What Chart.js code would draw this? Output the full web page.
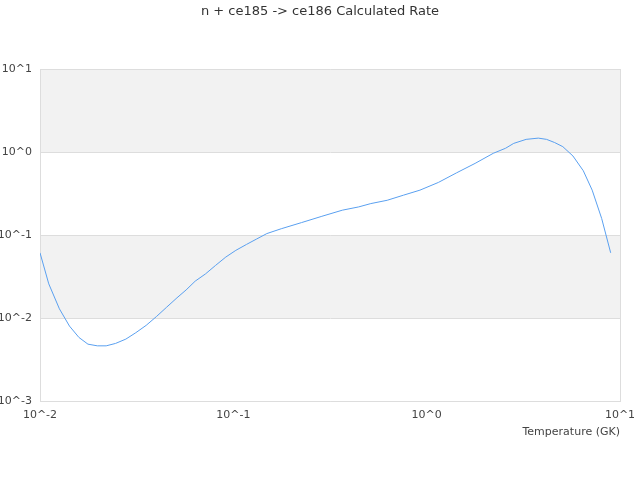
<!DOCTYPE html>
<html>
<head>
<meta charset="utf-8">
<script src="https://cdn.jsdelivr.net/npm/chart.js@4"></script>
<style>
  html, body { margin: 0; padding: 0; background: #fff; }
  #wrap { width: 640px; height: 480px; }
</style>
</head>
<body>
<div id="wrap"><canvas id="myChart" width="640" height="480"></canvas></div>
<script>
// temperature in GK
var temps = [0.01, 0.0111, 0.0126, 0.0142, 0.0159, 0.0177, 0.0198, 0.022, 0.0246, 0.0278,
  0.0313, 0.0354, 0.04, 0.0452, 0.0511, 0.057, 0.0635, 0.0718, 0.0809, 0.0914,
  0.103, 0.117, 0.132, 0.149, 0.177, 0.225, 0.287, 0.366, 0.445, 0.514,
  0.625, 0.759, 0.923, 1.15, 1.43, 1.78, 2.21, 2.56, 2.82, 3.27,
  3.78, 4.17, 4.59, 5.06, 5.71, 6.46, 7.18, 8.04, 8.95];
// calculated rate
var rates = [0.061, 0.0258, 0.0129, 0.008, 0.00583, 0.00484, 0.00462, 0.00462, 0.00494, 0.00557,
  0.00665, 0.00815, 0.0104, 0.0135, 0.0175, 0.0218, 0.0278, 0.034, 0.043, 0.0542,
  0.0653, 0.077, 0.0895, 0.104, 0.119, 0.141, 0.168, 0.199, 0.218, 0.239,
  0.262, 0.302, 0.347, 0.43, 0.562, 0.729, 0.964, 1.11, 1.27, 1.42,
  1.47, 1.42, 1.30, 1.16, 0.895, 0.594, 0.347, 0.158, 0.061];

var xTicks = [0.01, 0.1, 1, 10];
var yTicks = [0.001, 0.01, 0.1, 1, 10];
// shaded bands [from, to]
var bands = [[1, 10], [0.01, 0.1]];

var points = [];
for (var i = 0; i < temps.length; i++) {
  points.push({x: temps[i], y: rates[i]});
}

function powLabel(v) {
  return '10^' + Math.round(Math.log10(v));
}

var bandPlugin = {
  id: 'bands',
  beforeDraw: function(chart) {
    var c = chart.ctx, a = chart.chartArea, y = chart.scales.y;
    c.save();
    c.fillStyle = '#f2f2f2';
    bands.forEach(function(b) {
      var top = y.getPixelForValue(b[1]);
      var bot = y.getPixelForValue(b[0]);
      c.fillRect(a.left, top, a.right - a.left, bot - top);
    });
    c.restore();
  },
  afterDraw: function(chart) {
    // right edge of the frame
    var c = chart.ctx, a = chart.chartArea;
    c.save();
    c.strokeStyle = '#dddddd';
    c.lineWidth = 1;
    c.beginPath();
    c.moveTo(Math.round(a.right) + 0.5, a.top);
    c.lineTo(Math.round(a.right) + 0.5, a.bottom);
    c.stroke();
    c.restore();
  }
};

Chart.defaults.font.family = '"DejaVu Sans", sans-serif';
Chart.defaults.color = '#444';

var ctx = document.getElementById('myChart').getContext('2d');
var chart = new Chart(ctx, {
  type: 'line',
  data: {
    datasets: [{
      label: 'rate',
      data: points,
      borderColor: 'rgb(90, 160, 240)',
      borderWidth: 1,
      pointRadius: 0,
      tension: 0,
      fill: false
    }]
  },
  plugins: [bandPlugin],
  options: {
    responsive: false,
    animation: false,
    layout: { padding: 0 },
    plugins: {
      legend: { display: false },
      tooltip: { enabled: false },
      title: {
        display: true,
        text: 'n + ce185 -> ce186 Calculated Rate',
        color: '#333',
        font: { size: 13, weight: 'normal' },
        padding: { top: 4, bottom: 49.4 }
      }
    },
    scales: {
      x: {
        type: 'logarithmic',
        min: 0.01,
        max: 10,
        afterBuildTicks: function(s) { s.ticks = xTicks.map(function(v) { return {value: v}; }); },
        afterFit: function(s) { s.height = 79; },
        grid: { display: false },
        border: { display: true, color: '#dddddd' },
        ticks: {
          autoSkip: false,
          maxRotation: 0,
          padding: 0,
          font: { size: 11 },
          callback: function(v) { return powLabel(v); }
        },
        title: {
          display: true,
          text: 'Temperature (GK)',
          align: 'end',
          color: '#444',
          font: { size: 11 },
          padding: { top: 0, bottom: 41.4 }
        }
      },
      y: {
        type: 'logarithmic',
        min: 0.001,
        max: 10,
        afterBuildTicks: function(s) { s.ticks = yTicks.map(function(v) { return {value: v}; }); },
        afterFit: function(s) { s.width = 40; },
        grid: { color: '#dddddd', drawTicks: false },
        border: { display: true, color: '#dddddd' },
        ticks: {
          autoSkip: false,
          padding: 8,
          font: { size: 11 },
          callback: function(v) { return powLabel(v); }
        }
      },
      // empty right margin so the title stays centred on the page
      gap: {
        type: 'linear',
        position: 'right',
        afterFit: function(s) { s.width = 20; },
        grid: { display: false },
        border: { display: false },
        ticks: { display: false }
      }
    }
  }
});
</script>
</body>
</html>
